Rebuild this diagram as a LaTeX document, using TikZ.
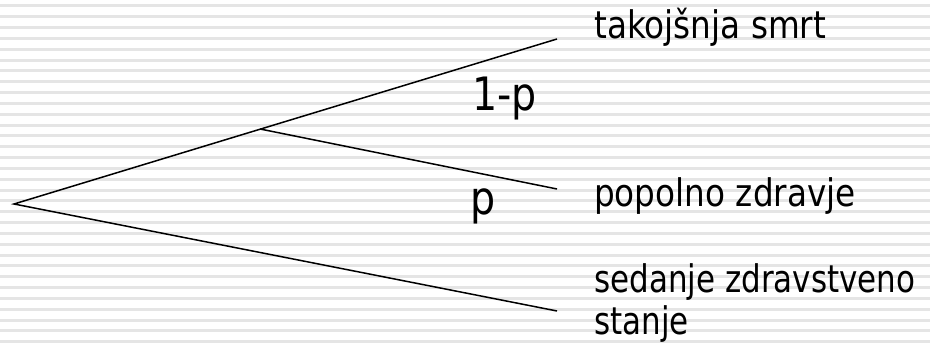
\documentclass[tikz,border=0pt]{standalone}
\usepackage{fontspec}
\newfontfamily\tah[FakeStretch=0.86]{DejaVu Sans}
\newfontfamily\tahn[FakeStretch=0.815]{DejaVu Sans}
\begin{document}
\begin{tikzpicture}[x=1pt,y=1pt,
  stripe/.style={draw=black!10,line width=3pt},
  branch/.style={draw=black,line width=1.5pt},
  lbl/.style={font=\tah\fontsize{38}{37}\selectfont,anchor=base west,inner sep=0pt,align=left},
  prob/.style={font=\tah\fontsize{46}{50}\selectfont,anchor=base west,inner sep=0pt}]
\useasboundingbox (0,0) rectangle (930,352);
\fill[white] (0,0) rectangle (930,352);
\foreach \k in {0,...,31}{
  \draw[stripe] (0,{346-10.83*\k}) -- (930,{346-10.83*\k});
}
\coordinate (O) at (14,148);
\coordinate (B) at (260,223);
\coordinate (U) at (557,313);
\coordinate (M) at (557,163);
\coordinate (L) at (557,41);
\draw[branch] (L) -- (O) -- (U);
\draw[branch] (B) -- (M);
\node[lbl] (t1) at (594,313) {takojšnja smrt};
\node[lbl] (t2) at (594,145) {popolno zdravje};
\node[lbl,font=\tahn\fontsize{38}{37}\selectfont] (t3) at (594,17) {sedanje zdravstveno\\[5pt]stanje};
\node[prob] (p1) at (472,241) {1-p};
\node[prob] (p2) at (470,137) {p};
\end{tikzpicture}
\end{document}
